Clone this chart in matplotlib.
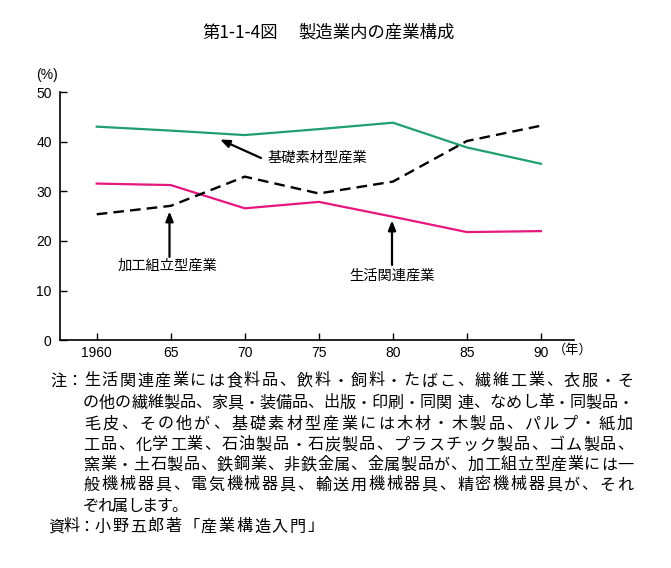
import matplotlib
matplotlib.use('Agg')
import matplotlib.pyplot as plt

# ---- data ----
years = [1960, 1965, 1970, 1975, 1980, 1985, 1990]
kiso_sozai = [43.1, 42.3, 41.4, 42.6, 43.9, 38.9, 35.6]      # 基礎素材型産業
seikatsu = [31.6, 31.3, 26.6, 27.9, 24.9, 21.8, 22.0]        # 生活関連産業
kakou_kumitate = [25.4, 27.1, 33.0, 29.6, 32.0, 40.2, 43.3]  # 加工組立型産業
xtick_labels = ['1960', '65', '70', '75', '80', '85', '90']
yticks = [0, 10, 20, 30, 40, 50]

title_a = '第1-1-4図'
title_b = '製造業内の産業構成'
label_kiso = '基礎素材型産業'
label_kakou = '加工組立型産業'
label_seikatsu = '生活関連産業'
note_lines = [
    '生活関連産業には食料品、飲料・飼料・たばこ、繊維工業、衣服・そ',
    'の他の繊維製品、家具・装備品、出版・印刷・同関 連、なめし革・同製品・',
    '毛皮、その他が、基礎素材型産業には木材・木製品、パルプ・紙加',
    '工品、化学工業、石油製品・石炭製品、プラスチック製品、ゴム製品、',
    '窯業・土石製品、鉄鋼業、非鉄金属、金属製品が、加工組立型産業には一',
    '般機械器具、電気機械器具、輸送用機械器具、精密機械器具が、それ',
]
note_last = 'ぞれ属します。'
source = '小野五郎著「産業構造入門」'

JP = ['Noto Sans CJK JP', 'DejaVu Sans']
NUM = ['Liberation Sans', 'DejaVu Sans']

W, H = 671, 568
fig = plt.figure(figsize=(W / 100, H / 100), dpi=100)
L, R, T, B = 60, 574, 92.5, 340
ax = fig.add_axes([L / W, 1 - B / H, (R - L) / W, (B - T) / H])

green = '#1f9e6e'
pink = '#e5177f'
ax.plot(years, kiso_sozai, color=green, lw=1.6, solid_joinstyle='miter')
ax.plot(years, seikatsu, color=pink, lw=1.6, solid_joinstyle='miter')
ax.plot(years, kakou_kumitate, color='black', lw=1.7, linestyle=(0, (4.5, 2.6)))

ax.set_xlim(1957.52, 1992.23)
ax.set_ylim(0, 50)
ax.set_xticks(years)
ax.set_xticklabels(xtick_labels, family=NUM, fontsize=10)
ax.set_yticks(yticks)
ax.set_yticklabels([str(v) for v in yticks], family=NUM, fontsize=10)
ax.tick_params(axis='both', direction='in', length=5, width=1.0, color='black')
ax.tick_params(axis='y', pad=6)
ax.tick_params(axis='x', pad=4)
for s in ['top', 'right']:
    ax.spines[s].set_visible(False)
for s in ['left', 'bottom']:
    ax.spines[s].set_linewidth(1.2)

# helpers: pixel -> data
def dx(px):
    return 1957.52 + (px - L) / (R - L) * (1992.23 - 1957.52)

def dy(py):
    return (B - py) / (B - T) * 50

arrow = dict(arrowstyle='-|>,head_length=0.55,head_width=0.22', color='black',
             lw=1.6, shrinkA=0, shrinkB=0)

ax.annotate('', xy=(dx(220), dy(139.5)), xytext=(dx(261), dy(158)),
            arrowprops=arrow, fontsize=10.3, annotation_clip=False)
ax.text(dx(268), dy(158), label_kiso, family=JP, fontsize=10.3, ha='left', va='center')

ax.annotate('', xy=(dx(169.5), dy(211.5)), xytext=(dx(169.5), dy(257)),
            arrowprops=arrow, fontsize=10.3, annotation_clip=False)
ax.text(dx(167), dy(266), label_kakou, family=JP, fontsize=10.3, ha='center', va='center')

ax.annotate('', xy=(dx(392), dy(220.5)), xytext=(dx(392), dy(265)),
            arrowprops=arrow, fontsize=10.3, annotation_clip=False)
ax.text(dx(392), dy(276), label_seikatsu, family=JP, fontsize=10.3, ha='center', va='center')

def ftext(x, y, s, **kw):
    fig.text(x / W, 1 - y / H, s, **kw)

# axis unit labels
ftext(47, 75, '(%)', family=NUM, fontsize=10, ha='center', va='center')
ftext(573, 350, '（年）', family=JP, fontsize=9.5, ha='center', va='center')

# title
ftext(202, 33, title_a, family=JP, fontsize=12.5, ha='left', va='center')
ftext(298, 33, title_b, family=JP, fontsize=12.5, ha='left', va='center')

# notes
NS = 11.6
def spread(s, x0, x1, y):
    wts = [0.35 if c == ' ' else 1.0 for c in s]
    unit = (x1 - x0) / sum(wts)
    x = x0
    for c, wt in zip(s, wts):
        if c != ' ':
            ftext(x + wt * unit / 2, y, c, family=JP, fontsize=NS, ha='center', va='center')
        x += wt * unit

line_y = [381, 403, 424, 445, 465, 485, 506, 527]
spread('注：', 50, 83, line_y[0])
for i, s in enumerate(note_lines):
    spread(s, 83, 634, line_y[i])
spread(note_last, 83, 83 + 14.8 * len(note_last), line_y[6])
spread('資料：', 49, 94, line_y[7])
spread(source, 94, 324, line_y[7])

fig.savefig('out.png', dpi=100)
